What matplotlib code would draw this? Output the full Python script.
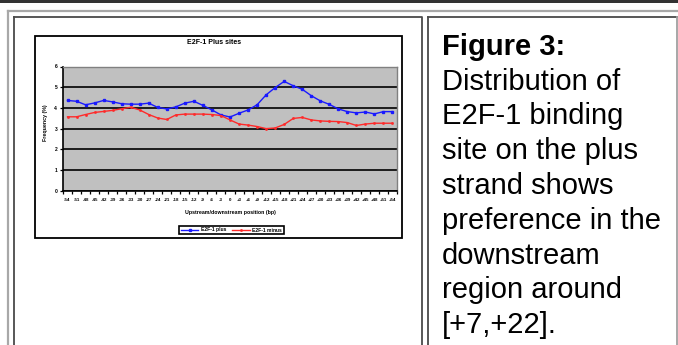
import matplotlib
matplotlib.use("Agg")
import matplotlib.pyplot as plt
from matplotlib.patches import Rectangle

# ---- data -------------------------------------------------------------
positions = [str(p) if p <= 0 else "+" + str(p) for p in range(-54, 55, 3)]
plus_strand = [4.36, 4.32, 4.15, 4.24, 4.36, 4.29, 4.20, 4.18, 4.18, 4.23,
               4.02, 3.95, 4.05, 4.23, 4.32, 4.12, 3.90, 3.66, 3.56, 3.74,
               3.90, 4.15, 4.63, 4.98, 5.28, 5.07, 4.90, 4.59, 4.34, 4.17,
               3.95, 3.82, 3.76, 3.80, 3.71, 3.82, 3.82]
minus_strand = [3.57, 3.57, 3.68, 3.78, 3.83, 3.88, 3.96, 4.03, 3.90, 3.68,
                3.51, 3.44, 3.66, 3.70, 3.70, 3.70, 3.68, 3.63, 3.42, 3.22,
                3.17, 3.10, 3.00, 3.03, 3.20, 3.49, 3.54, 3.42, 3.37, 3.35,
                3.34, 3.29, 3.15, 3.22, 3.26, 3.26, 3.26]
series_names = ["E2F-1 plus", "E2F-1 minus"]
y_ticks = [0, 1, 2, 3, 4, 5, 6]
chart_title = "E2F-1 Plus sites"
x_title = "Upstream/downstream position (bp)"
y_title = "Frequency (%)"
caption_head = "Figure 3:"
caption_lines = ["Distribution of", "E2F-1 binding", "site on the plus",
                 "strand shows", "preference in the", "downstream",
                 "region around", "[+7,+22]."]

W, H = 678, 345
fig = plt.figure(figsize=(W / 100, H / 100), dpi=100)
fig.patch.set_facecolor("white")

# ---- page / table frame (pixel coordinates) ----------------------------
page = fig.add_axes([0, 0, 1, 1])
page.set_xlim(0, W)
page.set_ylim(H, 0)
page.axis("off")

page.add_patch(Rectangle((0, 0), W, 3, color="#333333", lw=0))
# outer table border
page.plot([7.5, W], [10.5, 10.5], color="#a8a8a8", lw=1.6)
page.plot([7.5, 7.5], [10.5, H], color="#a8a8a8", lw=1.6)
# cell borders
cell = "#4a4a4a"
page.plot([14, 422, 422], [16.5, 16.5, H], color=cell, lw=1.3)
page.plot([14, 14], [16.5, H], color=cell, lw=1.3)
page.plot([428, 677], [16.5, 16.5], color=cell, lw=1.3)
page.plot([428, 428], [16.5, H], color=cell, lw=1.3)
page.plot([677, 677], [16.5, H], color="#a0a0a0", lw=1.3)

# chart image frame
page.add_patch(Rectangle((35, 36), 367, 202, fill=False, ec="black", lw=1.3))

# caption text
cap_font = "Liberation Sans"
cap_size = 21
page.text(442, 55, caption_head, fontsize=cap_size, family=cap_font,
          weight="bold", va="baseline", ha="left")
for i, line in enumerate(caption_lines):
    page.text(442, 55 + 34.75 * (i + 1), line, fontsize=cap_size,
              family=cap_font, va="baseline", ha="left")

# ---- line chart --------------------------------------------------------
left, right, top, bottom = 63, 397, 66.5, 190.7
ax = fig.add_axes([left / W, 1 - bottom / H, (right - left) / W,
                   (bottom - top) / H])
ax.set_facecolor("#c0c0c0")
x = list(range(len(positions)))
ax.plot(x, plus_strand, color="#1a1aff", lw=1.0, marker="s", ms=1.7,
        label=series_names[0], zorder=3)
ax.plot(x, minus_strand, color="#ff2a2a", lw=1.0, marker="s", ms=0.9,
        label=series_names[1], zorder=3)
ax.set_xlim(-0.5, len(positions) - 0.5)
ax.set_ylim(y_ticks[0], y_ticks[-1])
ax.set_yticks(y_ticks)
ax.set_yticklabels([str(v) for v in y_ticks])
ax.set_xticks(x)
ax.set_xticklabels(positions)
ax.set_xticks([i - 0.5 for i in range(len(positions) + 1)], minor=True)
ax.tick_params(axis="x", which="major", length=0, pad=5, labelsize=3.2)
ax.tick_params(axis="x", which="minor", length=2.2, width=0.9, direction="out")
ax.tick_params(axis="y", length=2.2, width=0.9, pad=2, labelsize=3.6)
for lab in ax.get_xticklabels() + ax.get_yticklabels():
    lab.set_fontweight("bold")
    lab.set_family("Liberation Sans")
ax.grid(axis="y", color="black", lw=1.2)
ax.get_ygridlines()[-1].set_visible(False)
ax.set_axisbelow(True)
for side in ("left", "bottom"):
    ax.spines[side].set_color("black")
    ax.spines[side].set_linewidth(1.2)
for side in ("top", "right"):
    ax.spines[side].set_color("#808080")
    ax.spines[side].set_linewidth(1.0)

fig.text(214 / W, 1 - 42.5 / H, chart_title, fontsize=5, weight="bold",
         family="Liberation Sans", ha="center", va="center")
fig.text(230 / W, 1 - 212 / H, x_title, fontsize=3.8, weight="bold",
         family="Liberation Sans", ha="center", va="center")
fig.text(45 / W, 1 - 123 / H, y_title, fontsize=3.8, weight="bold",
         family="Liberation Sans", ha="center", va="center", rotation=90)

leg = ax.legend(loc="center", bbox_to_anchor=(231.5 / W, 1 - 230 / H),
                bbox_transform=fig.transFigure, ncol=2,
                frameon=True, fancybox=False, edgecolor="black",
                handlelength=3.5, handletextpad=0.5, columnspacing=1.2,
                borderpad=0.35, prop={"family": "Liberation Sans",
                                      "weight": "bold", "size": 3.6})
leg.get_frame().set_linewidth(1.2)
leg.get_frame().set_facecolor("white")
leg.get_frame().set_alpha(1)

fig.savefig("out.png", dpi=100, facecolor="white")
